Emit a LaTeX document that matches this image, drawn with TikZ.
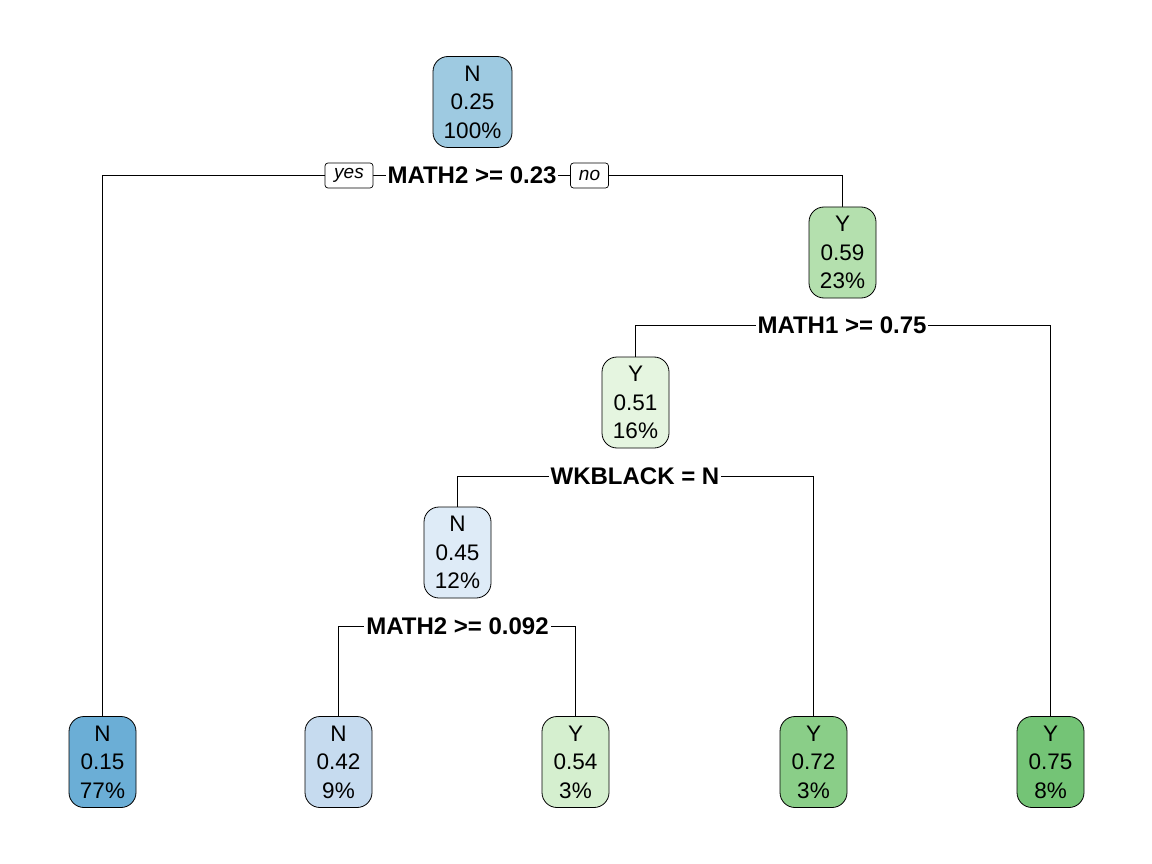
\documentclass[tikz,border=0pt]{standalone}
\usepackage{fontspec}
\setmainfont{Liberation Sans}
\usetikzlibrary{backgrounds}
\definecolor{cRoot}{HTML}{9ECAE1}
\definecolor{cLa}{HTML}{6BAED6}
\definecolor{cLb}{HTML}{C6DBEF}
\definecolor{cNd}{HTML}{DEEBF7}
\definecolor{cNc}{HTML}{E5F5E0}
\definecolor{cLc}{HTML}{D5EFCF}
\definecolor{cNb}{HTML}{B4E0AE}
\definecolor{cLd}{HTML}{8ACE88}
\definecolor{cLe}{HTML}{74C476}
\begin{document}
\begin{tikzpicture}[x=1pt,y=-1pt,
  tnode/.style={draw=black, line width=0.8pt, rounded corners=15pt,
    minimum width=67pt, minimum height=91pt, align=center,
    font=\fontsize{22.5}{28.5}\selectfont, inner sep=0pt},
  split/.style={fill=white, inner xsep=2pt, inner ysep=1pt,
    font=\bfseries\fontsize{24}{26}\selectfont},
  yn/.style={draw=black, line width=0.7pt, fill=white, rounded corners=3pt,
    font=\itshape\fontsize{19}{20}\selectfont, inner sep=0pt, minimum height=25pt},
  edge/.style={line width=1pt}]
\useasboundingbox (0,0) rectangle (1152,864);
% tree nodes
\node[tnode, fill=cRoot, minimum width=79pt] (root) at (472.5,102) {N\\0.25\\100\%};
\node[tnode, fill=cNb] (n2) at (842.5,252.5) {Y\\0.59\\23\%};
\node[tnode, fill=cNc] (n3) at (635.5,402.5) {Y\\0.51\\16\%};
\node[tnode, fill=cNd] (n4) at (457.5,552.5) {N\\0.45\\12\%};
\node[tnode, fill=cLa] (l1) at (102.5,762) {N\\0.15\\77\%};
\node[tnode, fill=cLb] (l2) at (338.5,762) {N\\0.42\\9\%};
\node[tnode, fill=cLc] (l3) at (575.5,762) {Y\\0.54\\3\%};
\node[tnode, fill=cLd] (l4) at (813.5,762) {Y\\0.72\\3\%};
\node[tnode, fill=cLe] (l5) at (1050.5,762) {Y\\0.75\\8\%};
% split labels
\node[split] (s1) at (472,175.5) {MATH2 >= 0.23};
\node[split] (s2) at (842,325.5) {MATH1 >= 0.75};
\node[split] (s3) at (635,476.5) {WKBLACK = N};
\node[split] (s4) at (457.5,626.5) {MATH2 >= 0.092};
\node[yn, minimum width=48pt] (yes) at (349,175.5) {yes};
\node[yn, minimum width=38pt] (no) at (589.5,175.5) {no};
% connectors
\begin{scope}[on background layer]
\fill[white] (0,0) rectangle (1152,864);
\draw[edge] (l1.north) |- (s1.center) -| (n2.north);
\draw[edge] (n3.north) |- (s2.center) -| (l5.north);
\draw[edge] (n4.north) |- (s3.center) -| (l4.north);
\draw[edge] (l2.north) |- (s4.center) -| (l3.north);
\end{scope}
\end{tikzpicture}
\end{document}
